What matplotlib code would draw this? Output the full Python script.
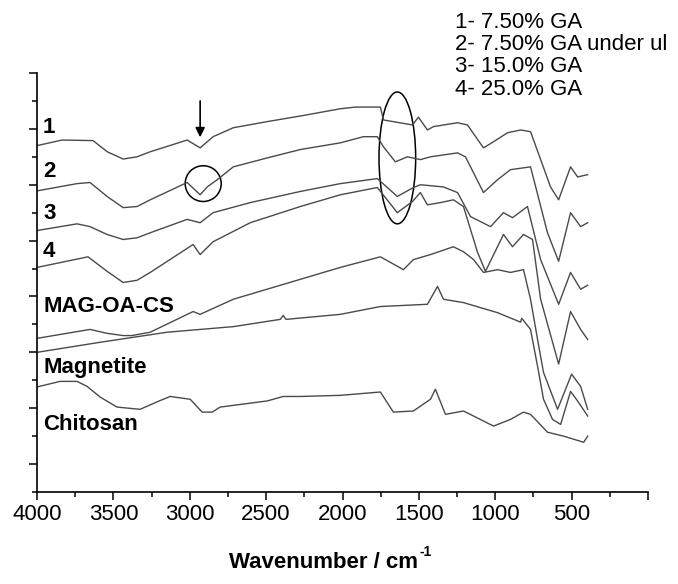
import numpy as np
import matplotlib
matplotlib.use("Agg")
import matplotlib.pyplot as plt
from matplotlib.patches import Ellipse

plt.rcParams['font.family'] = ['Liberation Sans', 'DejaVu Sans']

# FTIR spectra (wavenumber in cm-1, offset transmittance in a.u.)
wn_1 = [4000, 3836, 3633, 3540, 3436, 3345, 3259, 3017, 2932, 2847, 2715, 2493, 2276, 2014, 1916, 1752,
        1732, 1542, 1503, 1444, 1405, 1247, 1182, 1077, 1011, 920, 834, 769, 638, 585, 507, 461, 395]
t_1 = [5.70, 5.80, 5.79, 5.59, 5.46, 5.50, 5.59, 5.80, 5.66, 5.86, 6.02, 6.13, 6.23, 6.36, 6.39, 6.39,
       6.16, 6.07, 6.21, 5.98, 6.04, 6.11, 6.07, 5.66, 5.77, 5.93, 5.98, 5.95, 4.96, 4.73, 5.32, 5.14, 5.18]

wn_2 = [4000, 3738, 3653, 3541, 3436, 3345, 3259, 3017, 2932, 2886, 2820, 2715, 2493, 2276, 2014, 1863, 1772,
        1732, 1654, 1575, 1490, 1424, 1247, 1195, 1077, 985, 900, 769, 658, 585, 507, 441, 395]
t_2 = [4.89, 5.02, 5.04, 4.79, 4.59, 4.61, 4.73, 5.04, 4.82, 4.96, 5.09, 5.32, 5.48, 5.63, 5.75, 5.86, 5.86,
       5.68, 5.41, 5.50, 5.45, 5.50, 5.57, 5.50, 4.86, 5.09, 5.27, 5.32, 4.14, 3.63, 4.50, 4.25, 4.32]

wn_3 = [4000, 3738, 3653, 3541, 3436, 3345, 3259, 3017, 2932, 2847, 2604, 2276, 2014, 1772, 1641, 1536, 1490,
        1339, 1247, 1162, 1031, 946, 887, 789, 703, 585, 507, 441, 395]
t_3 = [4.18, 4.30, 4.25, 4.11, 4.02, 4.05, 4.14, 4.38, 4.32, 4.50, 4.68, 4.88, 5.02, 5.11, 4.79, 4.95, 5.00,
       4.96, 4.86, 4.43, 4.25, 4.50, 4.41, 4.61, 3.66, 2.86, 3.43, 3.13, 3.20]

wn_4 = [4000, 3666, 3541, 3436, 3345, 3259, 2978, 2932, 2847, 2604, 2276, 2014, 1772, 1641, 1542, 1490, 1444,
        1359, 1274, 1208, 1116, 1064, 946, 887, 815, 756, 703, 585, 507, 441, 395]
t_4 = [3.52, 3.71, 3.45, 3.25, 3.29, 3.43, 3.93, 3.75, 3.98, 4.32, 4.61, 4.82, 4.95, 4.50, 4.70, 4.86, 4.64,
       4.68, 4.73, 4.61, 3.79, 3.45, 4.11, 3.89, 4.11, 4.02, 2.95, 1.79, 2.73, 2.41, 2.23]

wn_mag_oa_cs = [4000, 3653, 3541, 3436, 3380, 3259, 2978, 2932, 2715, 2014, 1752, 1601, 1536, 1424, 1274, 1208,
                1142, 1077, 985, 900, 815, 769, 723, 684, 592, 500, 441, 395]
t_mag_oa_cs = [2.25, 2.41, 2.34, 2.30, 2.30, 2.36, 2.73, 2.68, 2.95, 3.52, 3.71, 3.48, 3.66, 3.75, 3.89, 3.80,
               3.66, 3.43, 3.48, 3.43, 3.48, 2.95, 2.23, 1.64, 0.98, 1.61, 1.39, 0.98]

wn_magnetite = [4000, 3587, 3148, 2715, 2407, 2388, 2370, 2014, 1752, 1444, 1378, 1339, 1208, 985,
                834, 827, 769, 723, 684, 625, 572, 507, 461, 395]
t_magnetite = [2.00, 2.18, 2.36, 2.46, 2.59, 2.66, 2.59, 2.68, 2.82, 2.86, 3.18, 2.95, 2.89, 2.71,
               2.54, 2.61, 2.41, 1.75, 1.16, 0.80, 0.71, 1.30, 1.13, 0.86]

wn_chitosan = [4000, 3849, 3738, 3672, 3587, 3476, 3325, 3200, 3128, 2997, 2919, 2853, 2801, 2493, 2388,
               2276, 2014, 1752, 1667, 1536, 1424, 1392, 1326, 1208, 1011, 900, 815, 769, 658, 553, 421, 395]
t_chitosan = [1.38, 1.48, 1.48, 1.39, 1.20, 1.02, 0.98, 1.13, 1.21, 1.16, 0.93, 0.93, 1.02, 1.13, 1.21,
              1.21, 1.23, 1.29, 0.93, 0.95, 1.16, 1.34, 0.89, 0.95, 0.68, 0.80, 0.93, 0.89, 0.57, 0.50, 0.39, 0.50]

curve_labels = ['1', '2', '3', '4', 'MAG-OA-CS', 'Magnetite', 'Chitosan']
label_y = [6.02, 5.23, 4.48, 3.80, 2.82, 1.72, 0.71]
legend_lines = ['1- 7.50% GA', '2- 7.50% GA under ul', '3- 15.0% GA', '4- 25.0% GA']

fig = plt.figure(figsize=(6.78, 5.84), dpi=100)
ax = fig.add_axes([37 / 678, 1 - 492 / 584, 611 / 678, 419 / 584])

line_color = '#4a4a4a'
for wn, t in [(wn_1, t_1), (wn_2, t_2), (wn_3, t_3), (wn_4, t_4),
              (wn_mag_oa_cs, t_mag_oa_cs), (wn_magnetite, t_magnetite),
              (wn_chitosan, t_chitosan)]:
    ax.plot(wn, t, color=line_color, lw=1.0)

ax.set_xlim(4000, 0)
ax.set_ylim(-0.5, 7)
ax.set_xticks(np.arange(4000, -1, -500))
ax.set_xticklabels([str(v) if v > 0 else '' for v in range(4000, -1, -500)])
ax.set_xticks(np.arange(3750, 0, -500), minor=True)
ax.set_yticks(np.arange(0, 7.1, 1))
ax.set_yticks(np.arange(-0.5, 7, 1), minor=True)
ax.set_yticklabels([])
ax.tick_params(axis='both', which='major', direction='out', length=6, width=1.1,
               labelsize=16, pad=3)
ax.tick_params(axis='both', which='minor', direction='out', length=3.5, width=1.1)
for side in ['top', 'right']:
    ax.spines[side].set_visible(False)
for side in ['left', 'bottom']:
    ax.spines[side].set_linewidth(1.2)

# curve labels
for lab, y in zip(curve_labels, label_y):
    ax.text(3960, y, lab, fontsize=16, fontweight='bold', va='center', ha='left')

# annotations: arrow at the C-H band, circle and ellipse
ax.annotate('', xy=(2932, 5.80), xytext=(2932, 6.55),
            arrowprops=dict(arrowstyle='-|>', color='black', lw=1.2, mutation_scale=14))
ax.add_patch(Ellipse((2912, 5.02), 236, 0.64, fill=False, edgecolor='black', lw=1.1))
ax.add_patch(Ellipse((1641, 5.48), 240, 2.36, fill=False, edgecolor='black', lw=1.1))

# legend text at the top right
for i, line in enumerate(legend_lines):
    fig.text(455 / 678, 1 - (22 + 22.5 * i) / 584, line, fontsize=16, va='center', ha='left')

fig.text(418 / 678, 1 - 562 / 584, 'Wavenumber / cm', fontsize=16,
         fontweight='bold', ha='right', va='center')
fig.text(419 / 678, 1 - 552 / 584, '-1', fontsize=10, fontweight='bold', ha='left', va='center')

fig.savefig('out.png', dpi=100, facecolor='white')
